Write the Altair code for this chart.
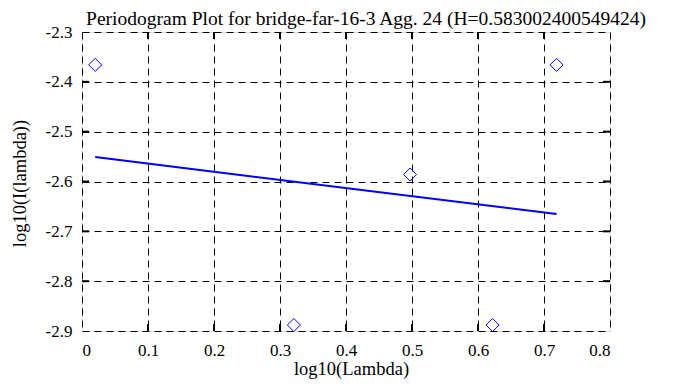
import altair as alt
import pandas as pd

# data
pt_x = [0.0200, 0.3210, 0.4971, 0.6221, 0.7190]
pt_y = [-2.366, -2.888, -2.586, -2.888, -2.366]
fit_x = [0.0200, 0.7190]
fit_y = [-2.551, -2.665]
x_ticks = [0.0, 0.1, 0.2, 0.3, 0.4, 0.5, 0.6, 0.7, 0.8]
y_ticks = [-2.3, -2.4, -2.5, -2.6, -2.7, -2.8, -2.9]
x_inner = [0.1, 0.2, 0.3, 0.4, 0.5, 0.6, 0.7]
y_inner = [-2.4, -2.5, -2.6, -2.7, -2.8]

FONT = "Liberation Serif"
W, H = 528, 299

xs = alt.Scale(domain=[0, 0.8], nice=False, zero=False)
ys = alt.Scale(domain=[-2.9, -2.3], nice=False, zero=False)

pts = pd.DataFrame({"x": pt_x, "y": pt_y})
fit = pd.DataFrame({"x": fit_x, "y": fit_y})
xt = pd.DataFrame({"v": x_inner})
yt = pd.DataFrame({"v": y_inner})

common = dict(grid=True, gridColor="black", gridDash=[7, 5], gridWidth=1, gridOpacity=1,
              ticks=False, domain=False, labelFont=FONT, titleFont=FONT,
              labelFontSize=17, titleFontSize=18.5, titleFontWeight="normal",
              labelColor="black", titleColor="black", titleBaseline="alphabetic")

xaxis = alt.Axis(values=x_ticks, format="~g", title="log10(Lambda)", labelPadding=11,
                 titleX=269, titleY=43, titleAnchor="middle", **common)
yaxis = alt.Axis(values=y_ticks, format=".1f", labelExpr="replace(datum.label, '\u2212', '-')",
                 title="log10(I(lambda))", labelPadding=10,
                 titleX=-57, titleY=151, titleAngle=270, titleAlign="center", **common)

line = alt.Chart(fit).mark_line(color="blue", strokeWidth=2).encode(
    x=alt.X("x:Q", scale=xs, axis=xaxis), y=alt.Y("y:Q", scale=ys, axis=yaxis))
points = alt.Chart(pts).mark_point(shape="diamond", color="blue", filled=False,
                                   size=170, strokeWidth=1, opacity=1).encode(
    x=alt.X("x:Q", scale=xs), y=alt.Y("y:Q", scale=ys))

tb = alt.Chart(xt).mark_rule(color="black", strokeWidth=2).encode(
    x=alt.X("v:Q", scale=xs), y=alt.value(0), y2=alt.value(7))
bb = alt.Chart(xt).mark_rule(color="black", strokeWidth=2).encode(
    x=alt.X("v:Q", scale=xs), y=alt.value(H), y2=alt.value(H - 7))
lt = alt.Chart(yt).mark_rule(color="black", strokeWidth=2).encode(
    y=alt.Y("v:Q", scale=ys), x=alt.value(0), x2=alt.value(7))
rt = alt.Chart(yt).mark_rule(color="black", strokeWidth=2).encode(
    y=alt.Y("v:Q", scale=ys), x=alt.value(W), x2=alt.value(W - 7))

chart = alt.layer(line, points, tb, bb, lt, rt).properties(
    width=W, height=H,
    title=alt.TitleParams("Periodogram Plot for bridge-far-16-3 Agg. 24 (H=0.583002400549424)",
                          font=FONT, fontSize=19.5, fontWeight="normal", color="black",
                          anchor="middle", frame="group", dx=20, offset=-6),
    autosize=alt.AutoSizeParams(type="none"),
    padding={"left": 74, "top": 24, "right": 65, "bottom": 64},
).configure_view(stroke="black", strokeWidth=2).configure(background="white")

chart.save("out.html", embed_options={"renderer": "svg", "actions": False})
